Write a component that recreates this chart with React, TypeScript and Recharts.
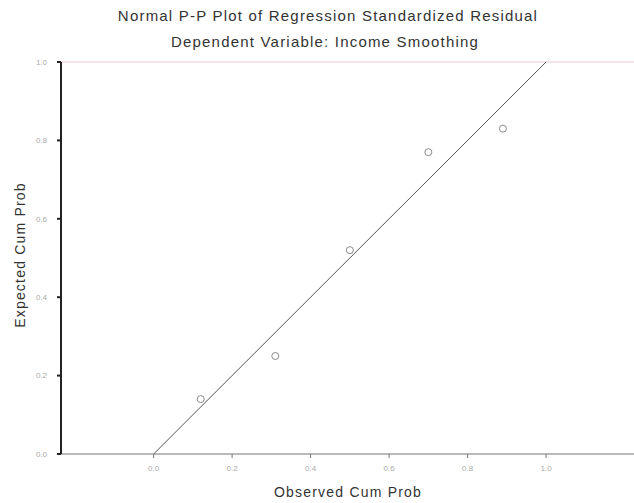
import { ScatterChart, Scatter, XAxis, YAxis, ReferenceLine } from "recharts";

// observed vs expected cumulative probabilities
const observedCumProb = [0.12, 0.31, 0.5, 0.7, 0.89];
const expectedCumProb = [0.14, 0.25, 0.52, 0.77, 0.83];
const tickValues = [0, 0.2, 0.4, 0.6, 0.8, 1.0];
const diagonal = [
  { x: 0, y: 0 },
  { x: 1, y: 1 },
];

const points = observedCumProb.map((x, i) => ({ x, y: expectedCumProb[i] }));

const FONT = '"Liberation Sans", Arial, sans-serif';

function HollowDot(props: any) {
  const { cx, cy } = props;
  if (cx == null || cy == null) return null;
  return <circle cx={cx} cy={cy} r={3.5} fill="none" stroke="#8a8a8a" strokeWidth={1} />;
}

const titleStyle = {
  position: "absolute" as const,
  transform: "translateX(-50%)",
  whiteSpace: "nowrap" as const,
  fontSize: 15,
  letterSpacing: 1.2,
  color: "#333",
};

const axisTitleStyle = {
  position: "absolute" as const,
  whiteSpace: "nowrap" as const,
  fontSize: 14,
  letterSpacing: 1.2,
  color: "#333",
};

function App() {
  return (
    <div style={{ position: "absolute", left: 0, top: 0, width: 634, height: 503, background: "#fff", fontFamily: FONT }}>
      <div style={{ ...titleStyle, top: 7, left: 328 }}>Normal P-P Plot of Regression Standardized Residual</div>
      <div style={{ ...titleStyle, top: 33, left: 325 }}>Dependent Variable: Income Smoothing</div>
      <div style={{ ...axisTitleStyle, left: 20, top: 255, transform: "translate(-50%, -50%) rotate(-90deg)" }}>
        Expected Cum Prob
      </div>
      <div style={{ ...axisTitleStyle, top: 484, left: 348, transform: "translateX(-50%)" }}>Observed Cum Prob</div>

      <ScatterChart width={634} height={503} margin={{ top: 62, right: 0, bottom: 0, left: 0 }} style={{ position: "absolute", left: 0, top: 0 }}>
        <XAxis
          type="number"
          dataKey="x"
          domain={[-0.236, 1.224]}
          allowDataOverflow
          ticks={tickValues}
          tickFormatter={(v: number) => v.toFixed(1)}
          height={49}
          tickSize={4}
          tickMargin={7}
          stroke="#777"
          tick={{ fontSize: 8, fill: "#aaa", fontFamily: FONT }}
        />
        <YAxis
          type="number"
          dataKey="y"
          domain={[0, 1]}
          ticks={tickValues}
          tickFormatter={(v: number) => v.toFixed(1)}
          width={61}
          tickSize={4}
          tickMargin={10}
          stroke="#222"
          strokeWidth={2}
          tick={{ fontSize: 8, fill: "#aaa", fontFamily: FONT }}
        />
        <ReferenceLine y={1} stroke="#e6c9d6" strokeWidth={1} />
        <ReferenceLine segment={diagonal} stroke="#555" strokeWidth={1} />
        <Scatter data={points} shape={HollowDot} isAnimationActive={false} />
      </ScatterChart>
    </div>
  );
}

export default App;
